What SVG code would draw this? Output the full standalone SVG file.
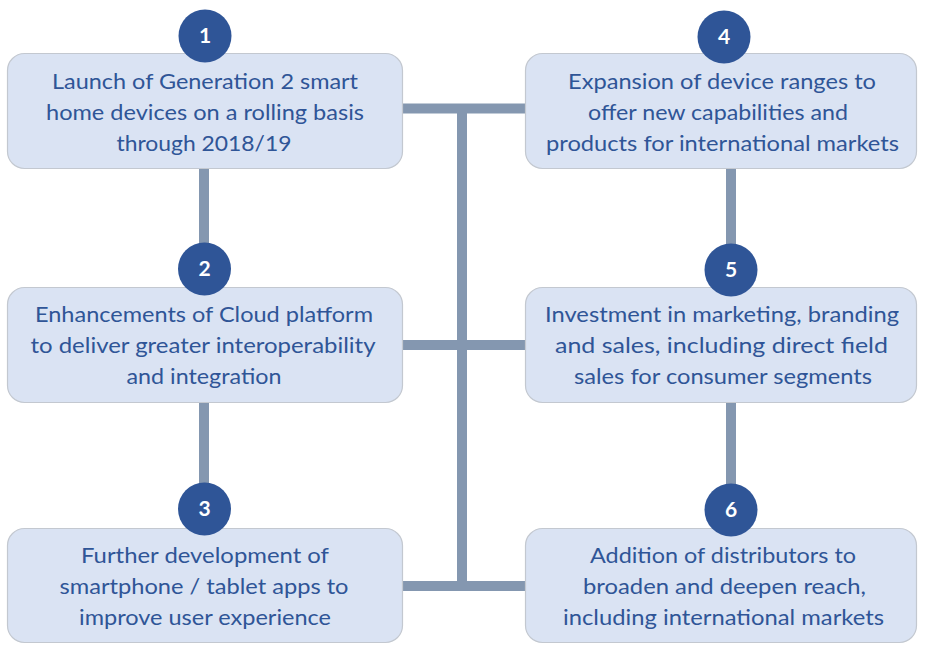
<svg xmlns="http://www.w3.org/2000/svg" width="931" height="648" viewBox="0 0 931 648">
  <defs>
    <style>
      .box { fill: #DAE3F3; stroke: #C3C8D0; stroke-width: 1.2; }
      .lbl { font-family: Lato, "Open Sans", "Liberation Sans", sans-serif; font-size: 22px; fill: #2F5597; text-anchor: middle; }
      .badge { fill: #2F5597; }
      .num { font-family: Lato, "Open Sans", "Liberation Sans", sans-serif; font-size: 21px; font-weight: bold; fill: #FFFFFF; text-anchor: middle; }
      .link { stroke: #8497B0; stroke-width: 10; fill: none; stroke-linecap: butt; }
    </style>
  </defs>
  <rect width="931" height="648" fill="#FFFFFF"/>

  <g id="connectors">
    <line class="link" x1="204" y1="168" x2="204" y2="288"/>
    <line class="link" x1="204" y1="402" x2="204" y2="528"/>
    <line class="link" x1="731" y1="168" x2="731" y2="288"/>
    <line class="link" x1="731" y1="402" x2="731" y2="528"/>
    <line class="link" x1="402" y1="108.5" x2="526" y2="108.5"/>
    <line class="link" x1="402" y1="345" x2="526" y2="345"/>
    <line class="link" x1="402" y1="586" x2="526" y2="586"/>
    <line class="link" x1="462" y1="104" x2="462" y2="581"/>
  </g>

  <g id="node1">
    <rect class="box" x="7.5" y="53.5" width="395" height="115" rx="17"/>
    <text class="lbl" x="205" y="89" textLength="306" lengthAdjust="spacingAndGlyphs">Launch of Generation 2 smart</text>
    <text class="lbl" x="205" y="120" textLength="318" lengthAdjust="spacingAndGlyphs">home devices on a rolling basis</text>
    <text class="lbl" x="204" y="151" textLength="175" lengthAdjust="spacingAndGlyphs">through 2018/19</text>
    <circle class="badge" cx="205" cy="36" r="26.5"/>
    <text class="num" x="205" y="43">1</text>
  </g>

  <g id="node2">
    <rect class="box" x="7.5" y="287.5" width="395" height="115" rx="17"/>
    <text class="lbl" x="204" y="322" textLength="338" lengthAdjust="spacingAndGlyphs">Enhancements of Cloud platform</text>
    <text class="lbl" x="203" y="353" textLength="345" lengthAdjust="spacingAndGlyphs">to deliver greater interoperability</text>
    <text class="lbl" x="204" y="384" textLength="155" lengthAdjust="spacingAndGlyphs">and integration</text>
    <circle class="badge" cx="204.5" cy="269" r="26.5"/>
    <text class="num" x="204.5" y="276">2</text>
  </g>

  <g id="node3">
    <rect class="box" x="7.5" y="528.5" width="395" height="114" rx="17"/>
    <text class="lbl" x="205" y="563" textLength="248" lengthAdjust="spacingAndGlyphs">Further development of</text>
    <text class="lbl" x="204" y="594" textLength="289" lengthAdjust="spacingAndGlyphs">smartphone / tablet apps to</text>
    <text class="lbl" x="205" y="625" textLength="252" lengthAdjust="spacingAndGlyphs">improve user experience</text>
    <circle class="badge" cx="204.5" cy="509" r="26.5"/>
    <text class="num" x="204.5" y="516">3</text>
  </g>

  <g id="node4">
    <rect class="box" x="525.5" y="53.5" width="391" height="115" rx="17"/>
    <text class="lbl" x="722" y="89" textLength="308" lengthAdjust="spacingAndGlyphs">Expansion of device ranges to</text>
    <text class="lbl" x="718" y="120" textLength="260" lengthAdjust="spacingAndGlyphs">offer new capabilities and</text>
    <text class="lbl" x="722.5" y="151" textLength="353" lengthAdjust="spacingAndGlyphs">products for international markets</text>
    <circle class="badge" cx="724" cy="37" r="26.5"/>
    <text class="num" x="724" y="44">4</text>
  </g>

  <g id="node5">
    <rect class="box" x="525.5" y="287.5" width="391" height="115" rx="17"/>
    <text class="lbl" x="722" y="322" textLength="354" lengthAdjust="spacingAndGlyphs">Investment in marketing, branding</text>
    <text class="lbl" x="721.5" y="353" textLength="333" lengthAdjust="spacingAndGlyphs">and sales, including direct field</text>
    <text class="lbl" x="723" y="384" textLength="298" lengthAdjust="spacingAndGlyphs">sales for consumer segments</text>
    <circle class="badge" cx="731" cy="270" r="26.5"/>
    <text class="num" x="731" y="277">5</text>
  </g>

  <g id="node6">
    <rect class="box" x="525.5" y="528.5" width="391" height="114" rx="17"/>
    <text class="lbl" x="723" y="563" textLength="266" lengthAdjust="spacingAndGlyphs">Addition of distributors to</text>
    <text class="lbl" x="724.5" y="594" textLength="283" lengthAdjust="spacingAndGlyphs">broaden and deepen reach,</text>
    <text class="lbl" x="723.5" y="625" textLength="321" lengthAdjust="spacingAndGlyphs">including international markets</text>
    <circle class="badge" cx="731" cy="510" r="26.5"/>
    <text class="num" x="731" y="517">6</text>
  </g>
</svg>
